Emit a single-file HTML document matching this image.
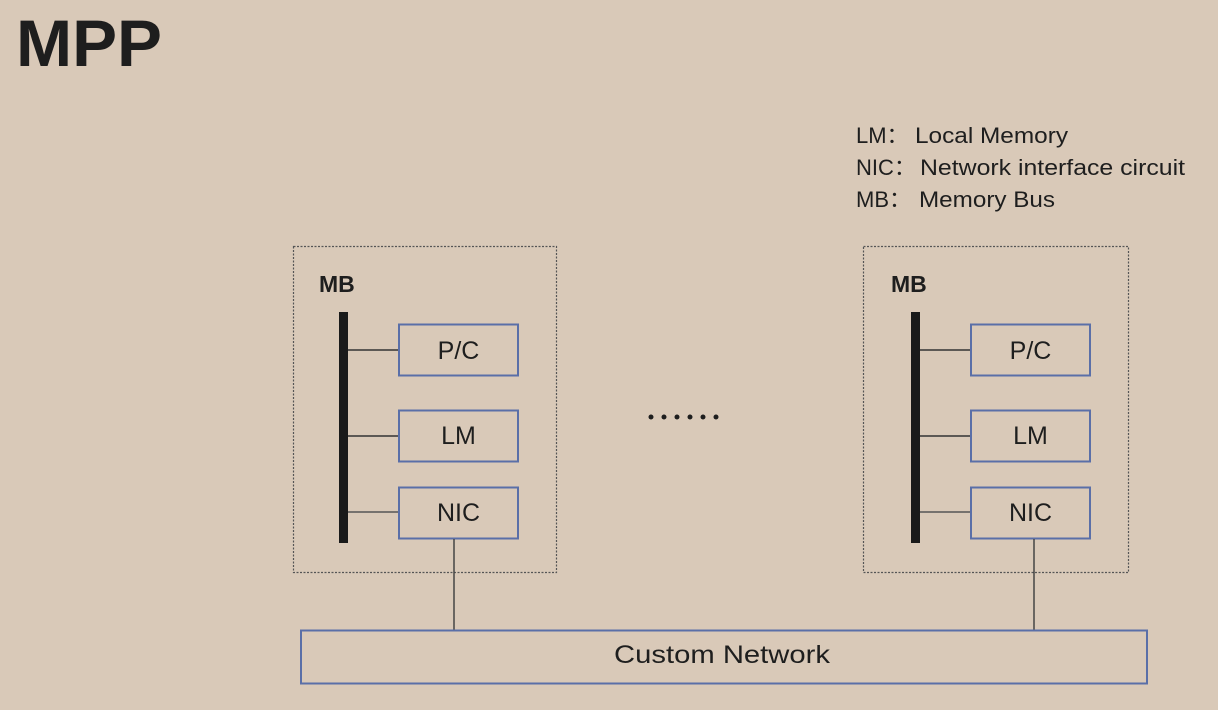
<!DOCTYPE html>
<html><head><meta charset="utf-8"><style>
html,body{margin:0;padding:0;background:#d9c9b8;}
svg{display:block;}
text{font-family:"Liberation Sans","Noto Sans CJK SC",sans-serif;fill:#1e1e1e;}
</style></head><body>
<svg width="1218" height="710" viewBox="0 0 1218 710" xmlns="http://www.w3.org/2000/svg">
<rect width="1218" height="710" fill="#d9c9b8"/>
<text x="16" y="66" font-size="66" font-weight="bold" textLength="146" lengthAdjust="spacingAndGlyphs">MPP</text>
<g font-size="22" fill="#2a2a2a">
<text x="856" y="143">LM：</text><text x="915" y="143" textLength="153" lengthAdjust="spacingAndGlyphs">Local Memory</text>
<text x="856" y="175">NIC：</text><text x="920" y="175" textLength="265" lengthAdjust="spacingAndGlyphs">Network interface circuit</text>
<text x="856" y="207">MB：</text><text x="919" y="207" textLength="136" lengthAdjust="spacingAndGlyphs">Memory Bus</text>
</g>
<g id="node">
<rect x="293.5" y="246.5" width="263" height="326" fill="none" stroke="#555" stroke-width="1.2" stroke-dasharray="2,1.5"/>
<text x="319" y="292" font-size="23" font-weight="bold">MB</text>
<rect x="339" y="312" width="9" height="231" fill="#1a1a1a"/>
<line x1="348" y1="350" x2="399" y2="350" stroke="#333" stroke-width="1.5"/>
<line x1="348" y1="436" x2="399" y2="436" stroke="#333" stroke-width="1.5"/>
<line x1="348" y1="512" x2="399" y2="512" stroke="#555" stroke-width="1.5"/>
<rect x="399" y="324.5" width="119" height="51" fill="none" stroke="#5a6fa8" stroke-width="2"/>
<rect x="399" y="410.5" width="119" height="51" fill="none" stroke="#5a6fa8" stroke-width="2"/>
<rect x="399" y="487.5" width="119" height="51" fill="none" stroke="#5a6fa8" stroke-width="2"/>
<text x="458.5" y="359" font-size="25" text-anchor="middle">P/C</text>
<text x="458.5" y="444" font-size="25" text-anchor="middle">LM</text>
<text x="458.5" y="521" font-size="25" text-anchor="middle">NIC</text>
<line x1="454" y1="539" x2="454" y2="630" stroke="#444" stroke-width="1.5"/>
</g>
<g transform="translate(572,0)">
<rect x="291.5" y="246.5" width="265" height="326" fill="none" stroke="#555" stroke-width="1.2" stroke-dasharray="2,1.5"/>
<text x="319" y="292" font-size="23" font-weight="bold">MB</text>
<rect x="339" y="312" width="9" height="231" fill="#1a1a1a"/>
<line x1="348" y1="350" x2="399" y2="350" stroke="#333" stroke-width="1.5"/>
<line x1="348" y1="436" x2="399" y2="436" stroke="#333" stroke-width="1.5"/>
<line x1="348" y1="512" x2="399" y2="512" stroke="#555" stroke-width="1.5"/>
<rect x="399" y="324.5" width="119" height="51" fill="none" stroke="#5a6fa8" stroke-width="2"/>
<rect x="399" y="410.5" width="119" height="51" fill="none" stroke="#5a6fa8" stroke-width="2"/>
<rect x="399" y="487.5" width="119" height="51" fill="none" stroke="#5a6fa8" stroke-width="2"/>
<text x="458.5" y="359" font-size="25" text-anchor="middle">P/C</text>
<text x="458.5" y="444" font-size="25" text-anchor="middle">LM</text>
<text x="458.5" y="521" font-size="25" text-anchor="middle">NIC</text>
<line x1="462" y1="539" x2="462" y2="630" stroke="#444" stroke-width="1.5"/>
</g>
<g fill="#1e1e1e">
<circle cx="651" cy="417" r="2.5"/><circle cx="664" cy="417" r="2.5"/><circle cx="677" cy="417" r="2.5"/>
<circle cx="690" cy="417" r="2.5"/><circle cx="703" cy="417" r="2.5"/><circle cx="716" cy="417" r="2.5"/>
</g>
<rect x="301" y="630.5" width="846" height="53" fill="none" stroke="#5a6fa8" stroke-width="2"/>
<text x="614" y="663" font-size="25" textLength="216" lengthAdjust="spacingAndGlyphs">Custom Network</text>
</svg>
</body></html>
